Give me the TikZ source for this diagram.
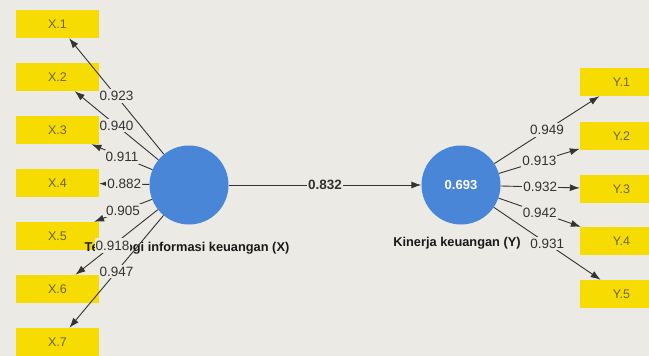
\documentclass[tikz,border=0pt]{standalone}
\usepackage{fontspec}
\setmainfont{Liberation Sans}
\usetikzlibrary{arrows.meta,positioning}
\definecolor{bgcol}{RGB}{236,234,229}
\definecolor{indyellow}{RGB}{246,220,0}
\definecolor{latblue}{RGB}{74,134,216}
\definecolor{indtext}{RGB}{105,100,70}
\definecolor{loadtext}{RGB}{50,50,50}
\tikzstyle{indbox} = [fill=indyellow, minimum width=83pt, minimum height=28pt, inner sep=0pt, text=indtext, font=\fontsize{12.5}{14}\selectfont]
\tikzstyle{latent} = [circle, fill=latblue, minimum size=79pt, inner sep=0pt]
\tikzstyle{load} = [fill=bgcol, inner xsep=1pt, inner ysep=2pt, text=loadtext, font=\fontsize{13.5}{15}\selectfont]
\tikzstyle{cname} = [inner sep=0pt, text=black!90, font=\bfseries\fontsize{12.8}{14}\selectfont]
\tikzstyle{line} = [draw=black!80, line width=0.9pt, -{Latex[length=10pt,width=7pt]}]
\tikzset{>=latex}

\begin{document}
\begin{tikzpicture}[x=1pt,y=-1pt]
    \fill [bgcol] (0,0) rectangle (649,356);
    \useasboundingbox (0,0) rectangle (649,356);
    \clip (0,0) rectangle (649,356);
    % indicators of X
    \node [indbox] (x1) at (57.5,24) {X.1};
    \node [indbox] (x2) at (57.5,77) {X.2};
    \node [indbox] (x3) at (57.5,130) {X.3};
    \node [indbox] (x4) at (57.5,183) {X.4};
    \node [indbox] (x5) at (57.5,236) {X.5};
    \node [indbox] (x6) at (57.5,289) {X.6};
    \node [indbox] (x7) at (57.5,342) {X.7};
    % indicators of Y
    \node [indbox] (y1) at (621.5,82) {Y.1};
    \node [indbox] (y2) at (621.5,136) {Y.2};
    \node [indbox] (y3) at (621.5,189) {Y.3};
    \node [indbox] (y4) at (621.5,241) {Y.4};
    \node [indbox] (y5) at (621.5,294) {Y.5};

    \node [latent] (X) at (189,185) {};
    \node [latent] (Y) at (461,185) {\textcolor{white}{\bfseries\fontsize{13}{15}\selectfont 0.693}};
    \node [cname] (Xlab) at (187,248) {Teknologi informasi keuangan (X)};
    \node [cname] (Ylab) at (457,243) {Kinerja keuangan (Y)};

    \draw [line] (X) -- (x1) node [load,midway] {0.923};
    \draw [line] (X) -- (x2) node [load,midway] {0.940};
    \draw [line] (X) -- (x3) node [load,midway] {0.911};
    \draw [line] (X) -- (x4) node [load,midway] {0.882};
    \draw [line] (X) -- (x5) node [load,midway] {0.905};
    \draw [line] (X) -- (x6) node [load,pos=0.55,inner ysep=3pt] {0.918};
    \draw [line] (X) -- (x7) node [load,midway] {0.947};

    \draw [line] (Y) -- (y1) node [load,midway] {0.949};
    \draw [line] (Y) -- (y2) node [load,midway] {0.913};
    \draw [line] (Y) -- (y3) node [load,midway] {0.932};
    \draw [line] (Y) -- (y4) node [load,midway] {0.942};
    \draw [line] (Y) -- (y5) node [load,midway] {0.931};

    \draw [line] (X) -- (Y) node [load,midway,font=\bfseries\fontsize{13.5}{15}\selectfont] {0.832};
\end{tikzpicture}
\end{document}
